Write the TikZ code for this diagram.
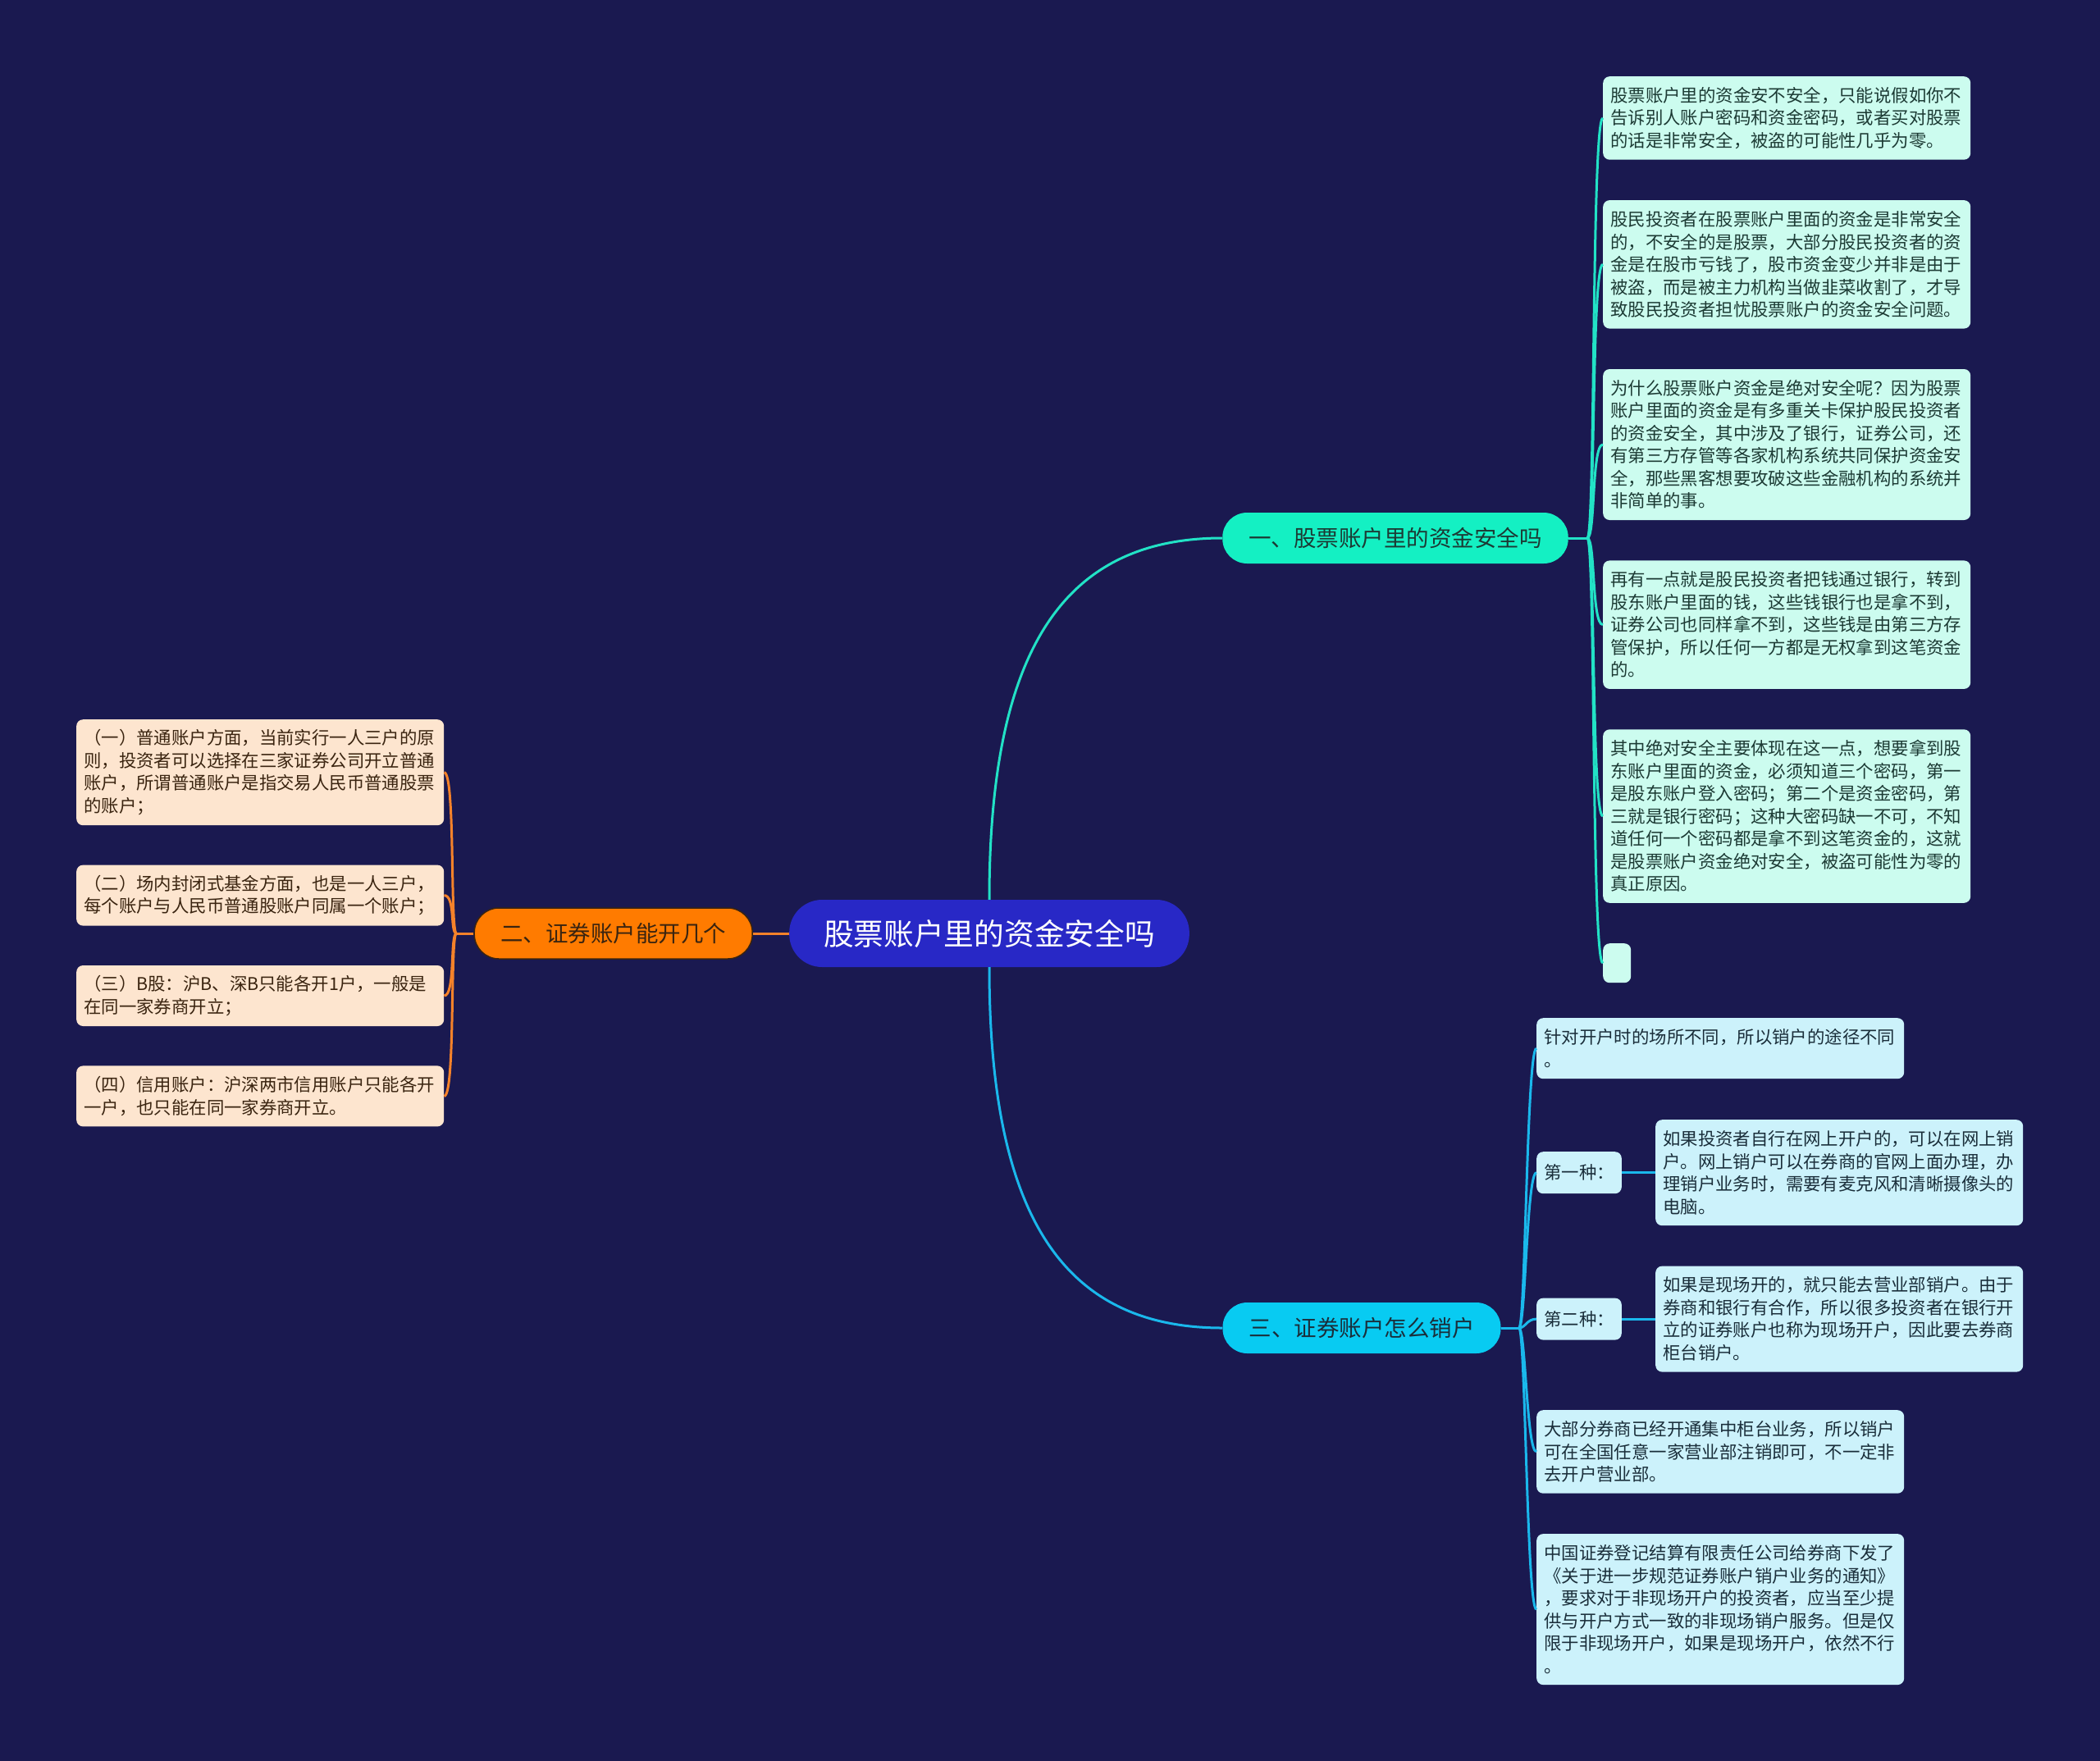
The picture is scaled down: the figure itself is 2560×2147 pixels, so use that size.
\documentclass[tikz,border=0pt]{standalone}
\usepackage{fontspec}
\usetikzlibrary{positioning, calc}
\newfontfamily\cjk{Noto Sans CJK SC}

\definecolor{bgc}{HTML}{1A1950}
\definecolor{rootc}{HTML}{2828C6}
\definecolor{gtopc}{HTML}{14F0C3}
\definecolor{gleafc}{HTML}{CCFCEF}
\definecolor{glinec}{HTML}{22E2C6}
\definecolor{gtextc}{HTML}{1C3A34}
\definecolor{ctopc}{HTML}{08CBF2}
\definecolor{cleafc}{HTML}{CCF2FB}
\definecolor{clinec}{HTML}{1AB8EC}
\definecolor{ctextc}{HTML}{1A2E3A}
\definecolor{otopc}{HTML}{FF7B00}
\definecolor{oleafc}{HTML}{FDE5CF}
\definecolor{olinec}{HTML}{F5822A}
\definecolor{otextc}{HTML}{3A2410}

\newcommand{\leaffont}{\cjk\fontsize{21.4}{27.5}\selectfont}

\begin{document}
\begin{tikzpicture}[x=1pt, y=-1pt,
  root/.style  = {fill=rootc, text=white, rounded corners=40pt, minimum height=82pt, inner xsep=42pt,
                  font=\cjk\fontsize{36.7}{44}\selectfont},
  topic/.style = {rounded corners=30pt, minimum height=62pt, inner xsep=32pt,
                  font=\cjk\fontsize{27.5}{33}\selectfont},
  leaf/.style  = {rounded corners=8pt, inner xsep=9pt, inner ysep=3pt, align=left, anchor=north west, font=\leaffont},
  nl/.style    = {minimum height={27.5*#1+19}},
  gleaf/.style = {leaf, fill=gleafc, text=gtextc, text width=430pt},
  cleaf/.style = {leaf, fill=cleafc, text=ctextc, text width=430pt},
  oleaf/.style = {leaf, fill=oleafc, text=otextc, text width=430pt},
  kind/.style  = {rounded corners=8pt, inner xsep=9pt, minimum height=51pt, fill=cleafc, text=ctextc, font=\leaffont},
  glink/.style = {draw=glinec, line width=3pt},
  clink/.style = {draw=clinec, line width=3pt},
  olink/.style = {draw=olinec, line width=3pt},
]
  \fill[bgc] (0,0) rectangle (2560,2147);
  \useasboundingbox (0,0) rectangle (2560,2147);

  % centre and main topics
  \node[root] (root) at (1206,1138) {股票账户里的资金安全吗};
  \node[topic, fill=gtopc, text=gtextc] (b1) at (1701,656) {一、股票账户里的资金安全吗};
  \node[topic, fill=ctopc, text=ctextc] (b3) at (1660,1619) {三、证券账户怎么销户};
  \node[topic, fill=otopc, text=otextc, draw=otextc, line width=1.5pt, left=44pt of root] (b2) {二、证券账户能开几个};

  % topic one
  \node[gleaf, nl=3] (g1) at (1954,93)
    {股票账户里的资金安不安全，只能说假如你不\\告诉别人账户密码和资金密码，或者买对股票\\的话是非常安全，被盗的可能性几乎为零。};
  \node[gleaf, nl=5, below=49pt of g1] (g2)
    {股民投资者在股票账户里面的资金是非常安全\\的，不安全的是股票，大部分股民投资者的资\\金是在股市亏钱了，股市资金变少并非是由于\\被盗，而是被主力机构当做韭菜收割了，才导\\致股民投资者担忧股票账户的资金安全问题。};
  \node[gleaf, nl=6, below=49pt of g2] (g3)
    {为什么股票账户资金是绝对安全呢？因为股票\\账户里面的资金是有多重关卡保护股民投资者\\的资金安全，其中涉及了银行，证券公司，还\\有第三方存管等各家机构系统共同保护资金安\\全，那些黑客想要攻破这些金融机构的系统并\\非简单的事。};
  \node[gleaf, nl=5, below=49pt of g3] (g4)
    {再有一点就是股民投资者把钱通过银行，转到\\股东账户里面的钱，这些钱银行也是拿不到，\\证券公司也同样拿不到，这些钱是由第三方存\\管保护，所以任何一方都是无权拿到这笔资金\\的。};
  \node[gleaf, nl=7, below=49pt of g4] (g5)
    {其中绝对安全主要体现在这一点，想要拿到股\\东账户里面的资金，必须知道三个密码，第一\\是股东账户登入密码；第二个是资金密码，第\\三就是银行密码；这种大密码缺一不可，不知\\道任何一个密码都是拿不到这笔资金的，这就\\是股票账户资金绝对安全，被盗可能性为零的\\真正原因。};
  \node[leaf, fill=gleafc, minimum width=34pt, minimum height=48pt, below right=49pt and 0pt of g5.south west] (g6) {};

  % topic two
  \node[oleaf, nl=4] (o1) at (93,877)
    {（一）普通账户方面，当前实行一人三户的原\\则，投资者可以选择在三家证券公司开立普通\\账户，所谓普通账户是指交易人民币普通股票\\的账户；};
  \node[oleaf, nl=2, below=48pt of o1] (o2)
    {（二）场内封闭式基金方面，也是一人三户，\\每个账户与人民币普通股账户同属一个账户；};
  \node[oleaf, nl=2, below=48pt of o2] (o3)
    {（三）B股：沪B、深B只能各开1户，一般是\\在同一家券商开立；};
  \node[oleaf, nl=2, below=48pt of o3] (o4)
    {（四）信用账户：沪深两市信用账户只能各开\\一户，也只能在同一家券商开立。};

  % topic three
  \node[cleaf, nl=2] (c1) at (1873,1241)
    {针对开户时的场所不同，所以销户的途径不同\\。};
  \node[cleaf, nl=4] (k1c) at (2018,1365)
    {如果投资者自行在网上开户的，可以在网上销\\户。网上销户可以在券商的官网上面办理，办\\理销户业务时，需要有麦克风和清晰摄像头的\\电脑。};
  \node[cleaf, nl=4, below=49pt of k1c] (k2c)
    {如果是现场开的，就只能去营业部销户。由于\\券商和银行有合作，所以很多投资者在银行开\\立的证券账户也称为现场开户，因此要去券商\\柜台销户。};
  \node[kind, left=41pt of k1c] (k1) {第一种：};
  \node[kind, left=41pt of k2c] (k2) {第二种：};
  \node[cleaf, nl=3] (c4) at (1873,1719)
    {大部分券商已经开通集中柜台业务，所以销户\\可在全国任意一家营业部注销即可，不一定非\\去开户营业部。};
  \node[cleaf, nl=6, below=49pt of c4] (c5)
    {中国证券登记结算有限责任公司给券商下发了\\《关于进一步规范证券账户销户业务的通知》\\，要求对于非现场开户的投资者，应当至少提\\供与开户方式一致的非现场销户服务。但是仅\\限于非现场开户，如果是现场开户，依然不行\\。};

  % connectors
  \draw[glink] (root.north) .. controls +(0,-310) and +(-190,0) .. (b1.west);
  \draw[clink] (root.south) .. controls +(0,310) and +(-190,0) .. (b3.west);
  \draw[olink] (root.west) -- (b2.east);

  \coordinate[right=23pt of b1] (hubg);
  \draw[glink] (b1.east) -- (hubg);
  \foreach \n in {g1,g2,g3,g4,g5,g6}
     \draw[glink] (hubg) .. controls +(10,0) and +(-14,0) .. (\n.west);

  \coordinate[right=22pt of b3] (hubc);
  \draw[clink] (b3.east) -- (hubc);
  \foreach \n in {c1,k1,k2,c4,c5}
     \draw[clink] (hubc) .. controls +(8,0) and +(-12,0) .. (\n.west);
  \draw[clink] (k1) -- (k1c);
  \draw[clink] (k2) -- (k2c);

  \coordinate[left=21pt of b2] (hubo);
  \draw[olink] (b2.west) -- (hubo);
  \foreach \n in {o1,o2,o3,o4}
     \draw[olink] (hubo) .. controls +(-8,0) and +(14,0) .. (\n.east);
\end{tikzpicture}
\end{document}
